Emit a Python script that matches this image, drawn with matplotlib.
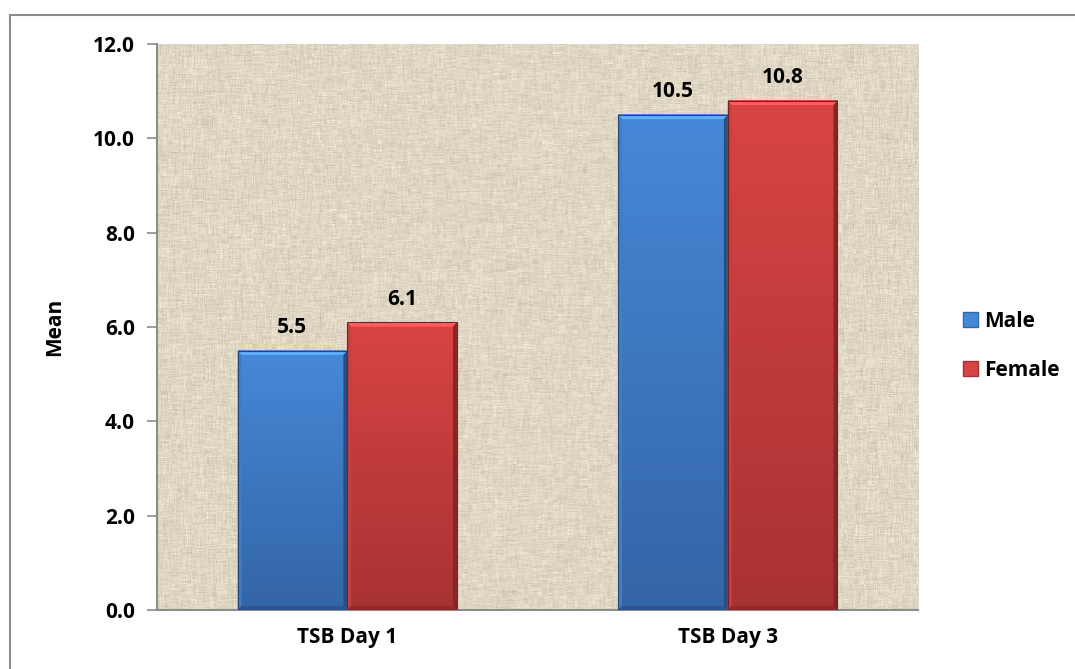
import numpy as np
import matplotlib.pyplot as plt
from matplotlib.patches import Polygon, Patch
from matplotlib.lines import Line2D

plt.rcParams['font.family'] = ['Open Sans', 'DejaVu Sans']
plt.rcParams['font.weight'] = 'bold'

categories = ['TSB Day 1', 'TSB Day 3']
male = [5.5, 10.5]
female = [6.1, 10.8]
series_names = ['Male', 'Female']
yticks = [0, 2, 4, 6, 8, 10, 12]

# (top colour, bottom colour) of the bar gradients
blue = ('#4688d8', '#3465a6')
red = ('#d84444', '#a83232')

FS = 15


def linen(h, w, seed=7):
    # woven-cloth look: short horizontal and vertical thread streaks
    rng = np.random.default_rng(seed)
    t = np.zeros((h, w))
    for step in (5, 12):
        rows = np.repeat(rng.normal(0, 1, (h, w // step + 1)), step, axis=1)[:, :w]
        cols = np.repeat(rng.normal(0, 1, (h // step + 1, w)), step, axis=0)[:h, :]
        t += 0.5 * rows + 0.5 * cols
    t = np.clip(t / 2.0, -2.5, 2.5) / 2.5
    base = np.array([224, 214, 196]) / 255
    img = base[None, None, :] + 0.14 * t[:, :, None]
    return np.clip(img, 0, 1)


def shaded_bar(ax, rect, colors):
    x0, w, h = rect.get_x(), rect.get_width(), rect.get_height()
    rect.set_visible(False)
    top = np.array(plt.matplotlib.colors.to_rgb(colors[0]))
    bot = np.array(plt.matplotlib.colors.to_rgb(colors[1]))
    g = np.linspace(0, 1, 64)[:, None, None]
    grad = top * (1 - g) + bot * g
    ax.imshow(np.repeat(grad, 2, axis=1), extent=(x0, x0 + w, 0, h),
              aspect='auto', interpolation='bilinear', zorder=2)
    bx, by = w * 0.035, 0.09
    light = np.clip(top * 1.18 + 0.05, 0, 1)
    dark = bot * 0.78
    # bevel: light top edge, darker sides
    ax.add_patch(Polygon([(x0, h), (x0 + w, h), (x0 + w - bx, h - by), (x0 + bx, h - by)],
                         closed=True, fc=light, ec='none', zorder=3))
    ax.add_patch(Polygon([(x0, 0), (x0, h), (x0 + bx, h - by), (x0 + bx, by)],
                         closed=True, fc=top * 0.92, ec='none', zorder=3))
    ax.add_patch(Polygon([(x0 + w, 0), (x0 + w, h), (x0 + w - bx, h - by), (x0 + w - bx, by)],
                         closed=True, fc=dark, ec='none', zorder=3))
    ax.add_patch(Polygon([(x0, 0), (x0 + w, 0), (x0 + w - bx, by), (x0 + bx, by)],
                         closed=True, fc=bot * 0.85, ec='none', zorder=3))
    ax.plot([x0, x0, x0 + w, x0 + w], [0, h, h, 0], color=bot * 0.7, lw=0.8, zorder=4)


fig = plt.figure(figsize=(10.75, 6.69), dpi=100)
ax = fig.add_axes([0.146, 0.088, 0.708, 0.846])

ax.imshow(linen(566, 761), extent=(0, 1, 0, 1), transform=ax.transAxes,
          aspect='auto', interpolation='antialiased', zorder=0)

x = np.arange(len(categories))
bw = 0.288
bars_m = ax.bar(x - bw / 2, male, bw)
bars_f = ax.bar(x + bw / 2, female, bw)

for rect in bars_m:
    shaded_bar(ax, rect, blue)
for rect in bars_f:
    shaded_bar(ax, rect, red)

for bars, vals in ((bars_m, male), (bars_f, female)):
    for rect, v in zip(bars, vals):
        ax.annotate(f'{v:.1f}', (rect.get_x() + rect.get_width() / 2, v),
                    xytext=(0, 9), textcoords='offset points',
                    ha='center', va='bottom', fontsize=FS, fontweight='bold')

ax.set_xlim(-0.5, 1.5)
ax.set_ylim(0, 12)
ax.set_yticks(yticks)
ax.set_yticklabels([f'{t:.1f}' for t in yticks], fontsize=FS, fontweight='bold')
ax.set_xticks(x)
ax.set_xticklabels(categories, fontsize=FS, fontweight='bold')
ax.tick_params(axis='x', length=0, pad=12)
ax.tick_params(axis='y', length=7, width=1.2, color='#8c8c8c', pad=9)
ax.set_ylabel('Mean', fontsize=FS, fontweight='bold', labelpad=20)

for side in ('top', 'right'):
    ax.spines[side].set_visible(False)
for side in ('left', 'bottom'):
    ax.spines[side].set_color('#8c8c8c')
    ax.spines[side].set_linewidth(1.5)

handles = [Patch(facecolor=blue[0], edgecolor=blue[1]),
           Patch(facecolor=red[0], edgecolor=red[1])]
fig.legend(handles, series_names, loc='center left', bbox_to_anchor=(0.878, 0.483),
           frameon=False, prop={'size': FS, 'weight': 'bold'},
           handlelength=0.75, handleheight=0.75, handletextpad=0.3, labelspacing=1.35)

# chart frame
fig.add_artist(Line2D([0.0093, 1.0], [0.9776, 0.9776], color='#8c8c8c', lw=1.5))
fig.add_artist(Line2D([0.0093, 0.0093], [0.0, 0.9776], color='#8c8c8c', lw=1.5))

fig.savefig('out.png', dpi=100)
